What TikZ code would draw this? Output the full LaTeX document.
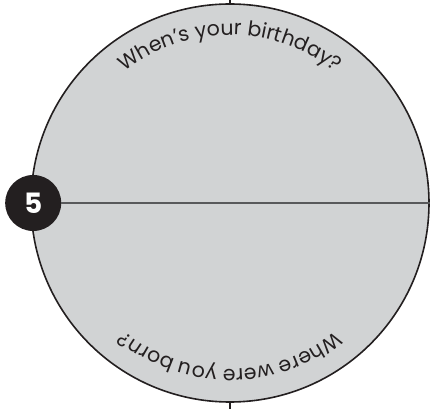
\documentclass[tikz,border=0pt]{standalone}
\usepackage{fontspec}
\setmainfont{Poppins}
\usetikzlibrary{positioning}
\usetikzlibrary{decorations.text}
\definecolor{dialgray}{HTML}{D1D3D4}
\definecolor{inkblack}{HTML}{231F20}
\definecolor{rulegray}{HTML}{58595B}
\newcommand\arcfont{\fontsize{20.5}{20.5}\selectfont}
\tikzset{
	dial/.style = {circle, draw=inkblack, fill=dialgray, line width=1.6pt,
		minimum size=398pt, inner sep=0pt},
	badge/.style = {circle, fill=inkblack, text=white, minimum size=56pt,
		inner sep=0pt, font=\fontsize{28}{28}\selectfont\bfseries},
	divider/.style = {draw=rulegray, line width=1.4pt},
	stubline/.style = {draw=inkblack, line width=1.2pt},
	arcword/.style = {decorate, decoration={text along path,
		text align=center, text color=inkblack}},
}

\begin{document}
\begin{tikzpicture}[x=1pt, y=1pt]
	\useasboundingbox (-230,-206) rectangle (201,203);
	\node (dial) [dial] at (0,0) {};
	\coordinate (topend) at (0,203);
	\coordinate (botend) at (0,-206);
	\path (dial.north) edge[stubline] (topend);
	\path (dial.south) edge[stubline] (botend);
	\node (num) [badge] at ([xshift=3pt]dial.west) {5};
	\draw[divider] (num) -- (dial.east);
	% text round the rim
	\path[arcword, decoration={text={|\arcfont|When's your birthday?}}]
		(150:168) arc[start angle=150, end angle=30, radius=168];
	\path[arcword, decoration={text={|\arcfont|Where were you born?}}]
		(-25:166) arc[start angle=-25, end angle=-155, radius=166];
\end{tikzpicture}
\end{document}
